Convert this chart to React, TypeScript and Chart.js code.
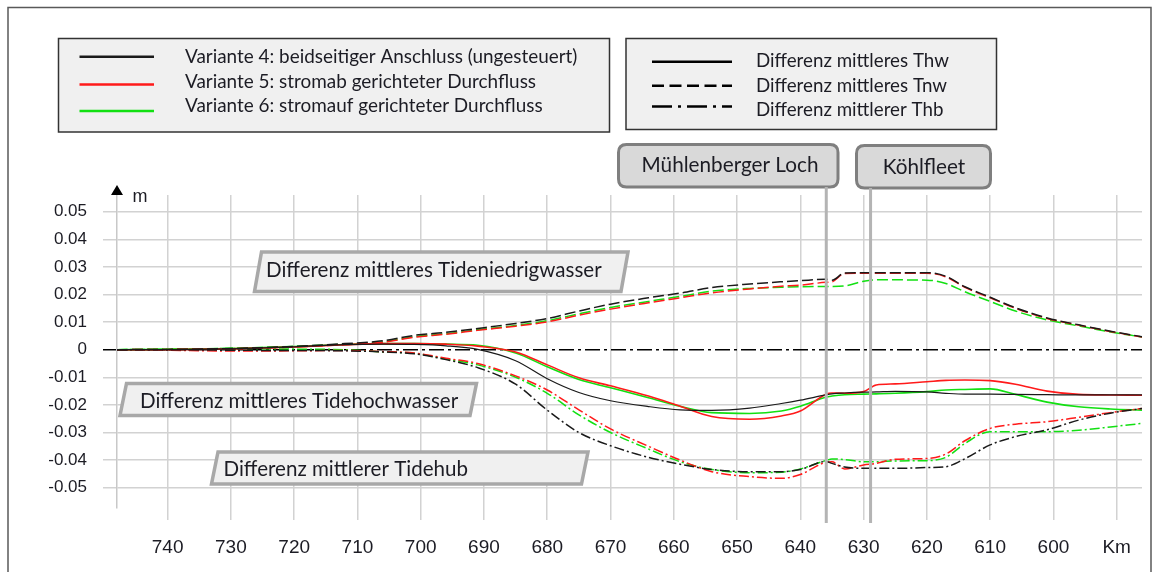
import React, { useEffect, useRef } from 'react';
import { Chart, registerables } from 'chart.js';

Chart.register(...registerables);

// ---------- data ----------
const km = [748, 740, 730, 720, 712, 706, 701, 696, 691, 685, 680, 675, 670, 664, 659, 654, 648, 643, 640, 636, 635, 633, 630, 628, 625, 620, 617, 614, 610, 606, 601, 596, 591, 586];

// Differenz mittleres Thw (solid)
const thwV4 = [0, 0, 0.0003, 0.0010, 0.0018, 0.0020, 0.0019, 0.0014, 0.0001, -0.0040, -0.0105, -0.0155, -0.0185, -0.0206, -0.0218, -0.0220, -0.0212, -0.0195, -0.0183, -0.0164, -0.0160, -0.0157, -0.0154, -0.0153, -0.0151, -0.0153, -0.0158, -0.0161, -0.0161, -0.0162, -0.0163, -0.0164, -0.0164, -0.0164];
const thwV5 = [0, 0, 0.0003, 0.0010, 0.0018, 0.0022, 0.0022, 0.0020, 0.0013, -0.0008, -0.0055, -0.0102, -0.0131, -0.0168, -0.0205, -0.0242, -0.0252, -0.0240, -0.0222, -0.0162, -0.0157, -0.0158, -0.0152, -0.0128, -0.0124, -0.0116, -0.0111, -0.0110, -0.0112, -0.0125, -0.0150, -0.0162, -0.0164, -0.0165];
const thwV6 = [0, 0.0001, 0.0004, 0.0011, 0.0019, 0.0022, 0.0022, 0.0020, 0.0016, -0.0012, -0.0062, -0.0108, -0.0138, -0.0174, -0.0205, -0.0228, -0.0231, -0.0222, -0.0205, -0.0172, -0.0168, -0.0163, -0.0161, -0.0160, -0.0158, -0.0152, -0.0146, -0.0144, -0.0142, -0.0162, -0.0190, -0.0207, -0.0215, -0.0219];

// Differenz mittleres Tnw (dashed)
const tnwV4 = [0, 0.0001, 0.0004, 0.0012, 0.0022, 0.0032, 0.0052, 0.0063, 0.0077, 0.0095, 0.0113, 0.0140, 0.0165, 0.0188, 0.0205, 0.0225, 0.0238, 0.0246, 0.0250, 0.0255, 0.0252, 0.0278, 0.0279, 0.0279, 0.0279, 0.0279, 0.0266, 0.0228, 0.0190, 0.0152, 0.0115, 0.0090, 0.0067, 0.0047];
const tnwV5 = [0, 0.0001, 0.0003, 0.0010, 0.0018, 0.0027, 0.0045, 0.0056, 0.0070, 0.0085, 0.0101, 0.0125, 0.0147, 0.0170, 0.0188, 0.0206, 0.0220, 0.0230, 0.0234, 0.0244, 0.0246, 0.0276, 0.0277, 0.0277, 0.0277, 0.0277, 0.0264, 0.0226, 0.0188, 0.0150, 0.0113, 0.0089, 0.0066, 0.0046];
const tnwV6 = [0, 0.0002, 0.0005, 0.0012, 0.0020, 0.0028, 0.0047, 0.0058, 0.0072, 0.0088, 0.0105, 0.0130, 0.0153, 0.0175, 0.0193, 0.0212, 0.0222, 0.0226, 0.0228, 0.0229, 0.0229, 0.0231, 0.0248, 0.0253, 0.0253, 0.0252, 0.0240, 0.0210, 0.0175, 0.0140, 0.0108, 0.0086, 0.0064, 0.0046];

// Differenz mittlerer Thb (dash-dot)
const thbV4 = [0, 0, -0.0002, -0.0003, -0.0004, -0.0008, -0.0015, -0.0036, -0.0065, -0.0125, -0.0219, -0.0300, -0.0348, -0.0390, -0.0415, -0.0434, -0.0442, -0.0442, -0.0434, -0.0405, -0.0412, -0.0425, -0.0430, -0.0430, -0.0430, -0.0427, -0.0424, -0.0395, -0.0345, -0.0315, -0.0290, -0.0255, -0.0230, -0.0213];
const thbV5 = [0, -0.0002, -0.0005, -0.0004, -0.0003, -0.0007, -0.0012, -0.0031, -0.0050, -0.0095, -0.0146, -0.0218, -0.0287, -0.0350, -0.0400, -0.0442, -0.0460, -0.0466, -0.0452, -0.0408, -0.0406, -0.0432, -0.0418, -0.0412, -0.0397, -0.0394, -0.0378, -0.0330, -0.0285, -0.0270, -0.0261, -0.0245, -0.0228, -0.0213];
const thbV6 = [0, 0.0002, 0.0004, 0.0002, 0, -0.0008, -0.0013, -0.0034, -0.0055, -0.0100, -0.0158, -0.0236, -0.0300, -0.0360, -0.0406, -0.0434, -0.0446, -0.0444, -0.0432, -0.0402, -0.0396, -0.0398, -0.0406, -0.0406, -0.0403, -0.0402, -0.0390, -0.0340, -0.0297, -0.0297, -0.0297, -0.0292, -0.0280, -0.0267];

const zeroLineKm = [748, 586];
const zeroLineValues = [0, 0];

const xTickValues = [740, 730, 720, 710, 700, 690, 680, 670, 660, 650, 640, 630, 620, 610, 600, 590];
const xTickLabels = ['740', '730', '720', '710', '700', '690', '680', '670', '660', '650', '640', '630', '620', '610', '600', 'Km'];
const yTickValues = [0.05, 0.04, 0.03, 0.02, 0.01, 0, -0.01, -0.02, -0.03, -0.04, -0.05];
const yTickLabels = ['0.05', '0.04', '0.03', '0.02', '0.01', '0', '-0.01', '-0.02', '-0.03', '-0.04', '-0.05'];

const variantLabels = [
  'Variante 4: beidseitiger Anschluss (ungesteuert)',
  'Variante 5: stromab gerichteter Durchfluss',
  'Variante 6: stromauf gerichteter Durchfluss',
];
const typeLabels = ['Differenz mittleres Thw', 'Differenz mittleres Tnw', 'Differenz mittlerer Thb'];
const calloutLabels = [
  'Differenz mittleres Tideniedrigwasser',
  'Differenz mittleres Tidehochwasser',
  'Differenz mittlerer Tidehub',
];
const markerNames = ['Mühlenberger Loch', 'Köhlfleet'];
const markerKm = [635.9, 628.9];
const unitLabel = 'm';

// ---------- styles ----------
const COLORS = ['#1a1a1a', '#ff1a1a', '#12e012'];
const THW_WIDTHS = [1.2, 1.6, 1.6];
const DASH_TNW = [11, 4];
const DASH_THB = [10, 3, 2, 3];
const DASH_ZERO = [15, 4, 3, 4];
const UI_FONT = 'Lato, "Open Sans", sans-serif';
const TICK_FONT = '"Liberation Sans", Arial, sans-serif';
const TEXT_COLOR = '#1c1c24';

function fitSize(ctx: CanvasRenderingContext2D, text: string, target: number, family: string) {
  ctx.font = `100px ${family}`;
  const w = ctx.measureText(text).width;
  return (100 * target) / w;
}

function parallelogram(ctx: CanvasRenderingContext2D, l: number, t: number, r: number, b: number, slant: number) {
  ctx.beginPath();
  ctx.moveTo(l + slant, t);
  ctx.lineTo(r, t);
  ctx.lineTo(r - slant, b);
  ctx.lineTo(l, b);
  ctx.closePath();
  ctx.fillStyle = '#f0f0f0';
  ctx.fill();
  ctx.lineWidth = 3.5;
  ctx.strokeStyle = '#a8a8a8';
  ctx.stroke();
}

function roundRect(ctx: CanvasRenderingContext2D, l: number, t: number, r: number, b: number, rad: number) {
  ctx.beginPath();
  ctx.moveTo(l + rad, t);
  ctx.lineTo(r - rad, t);
  ctx.quadraticCurveTo(r, t, r, t + rad);
  ctx.lineTo(r, b - rad);
  ctx.quadraticCurveTo(r, b, r - rad, b);
  ctx.lineTo(l + rad, b);
  ctx.quadraticCurveTo(l, b, l, b - rad);
  ctx.lineTo(l, t + rad);
  ctx.quadraticCurveTo(l, t, l + rad, t);
  ctx.closePath();
  ctx.fillStyle = '#d9d9d9';
  ctx.fill();
  ctx.lineWidth = 3;
  ctx.strokeStyle = '#7f7f7f';
  ctx.stroke();
}

const overlayPlugin = {
  id: 'overlay',
  beforeDraw(chart: any) {
    const ctx: CanvasRenderingContext2D = chart.ctx;
    ctx.save();
    // outer frame
    ctx.strokeStyle = '#595959';
    ctx.lineWidth = 1.5;
    ctx.strokeRect(8, 7.5, 1143, 640);

    // legend 1 (variants)
    ctx.fillStyle = '#f0f0f0';
    ctx.fillRect(58.5, 38.5, 551, 93.5);
    ctx.strokeStyle = '#333333';
    ctx.lineWidth = 1.5;
    ctx.strokeRect(58.5, 38.5, 551, 93.5);
    const legLineY = [56.8, 84.5, 111];
    const legTextY = [63.3, 88.3, 112.3];
    const s1 = fitSize(ctx, variantLabels[2], 358, UI_FONT);
    variantLabels.forEach((lab, i) => {
      ctx.beginPath();
      ctx.setLineDash([]);
      ctx.strokeStyle = COLORS[i];
      ctx.lineWidth = 2.5;
      ctx.moveTo(79.5, legLineY[i]);
      ctx.lineTo(154, legLineY[i]);
      ctx.stroke();
      ctx.font = `${s1}px ${UI_FONT}`;
      ctx.fillStyle = TEXT_COLOR;
      ctx.textAlign = 'left';
      ctx.textBaseline = 'alphabetic';
      ctx.fillText(lab, 185, legTextY[i]);
    });

    // legend 2 (line types)
    ctx.fillStyle = '#f0f0f0';
    ctx.fillRect(626, 38.5, 370.5, 91);
    ctx.strokeStyle = '#333333';
    ctx.lineWidth = 1.5;
    ctx.strokeRect(626, 38.5, 370.5, 91);
    const typeLineY = [61.7, 85.7, 106.5];
    const typeTextY = [67.3, 91.7, 116];
    const typeDash = [[], [12, 5.5], [20, 6, 3, 6]];
    const s2 = fitSize(ctx, typeLabels[0], 193, UI_FONT);
    typeLabels.forEach((lab, i) => {
      ctx.beginPath();
      ctx.setLineDash(typeDash[i]);
      ctx.strokeStyle = '#000000';
      ctx.lineWidth = 2.5;
      ctx.moveTo(652, typeLineY[i]);
      ctx.lineTo(732, typeLineY[i]);
      ctx.stroke();
      ctx.setLineDash([]);
      ctx.font = `${s2}px ${UI_FONT}`;
      ctx.fillStyle = TEXT_COLOR;
      ctx.textAlign = 'left';
      ctx.textBaseline = 'alphabetic';
      ctx.fillText(lab, 756, typeTextY[i]);
    });

    // marker label boxes
    roundRect(ctx, 618.5, 144.5, 838, 187, 8);
    roundRect(ctx, 856.5, 145.5, 990.5, 188, 8);
    const s3 = fitSize(ctx, markerNames[0], 177, UI_FONT);
    ctx.font = `${s3}px ${UI_FONT}`;
    ctx.fillStyle = TEXT_COLOR;
    ctx.textAlign = 'center';
    ctx.textBaseline = 'alphabetic';
    ctx.fillText(markerNames[0], 730, 171.7);
    ctx.fillText(markerNames[1], 924, 173.5);
    ctx.restore();
  },
  afterDatasetsDraw(chart: any) {
    const ctx: CanvasRenderingContext2D = chart.ctx;
    const xs = chart.scales.x;
    ctx.save();
    // vertical marker lines
    ctx.strokeStyle = '#b4b4b4';
    ctx.lineWidth = 3;
    const tops = [187, 188];
    markerKm.forEach((k, i) => {
      const px = xs.getPixelForValue(k);
      ctx.beginPath();
      ctx.moveTo(px, tops[i]);
      ctx.lineTo(px, 523);
      ctx.stroke();
    });

    // slanted callouts
    parallelogram(ctx, 254.5, 252, 628, 291.5, 7);
    parallelogram(ctx, 120, 383.5, 476.5, 415.5, 6.5);
    parallelogram(ctx, 211.5, 452, 588, 484, 6.5);
    const s4 = fitSize(ctx, calloutLabels[0], 336, UI_FONT);
    ctx.font = `${s4}px ${UI_FONT}`;
    ctx.fillStyle = TEXT_COLOR;
    ctx.textAlign = 'left';
    ctx.textBaseline = 'alphabetic';
    ctx.fillText(calloutLabels[0], 266, 277);
    ctx.fillText(calloutLabels[1], 140, 408);
    ctx.fillText(calloutLabels[2], 223.5, 476);
    ctx.restore();
  },
  afterDraw(chart: any) {
    const ctx: CanvasRenderingContext2D = chart.ctx;
    const left = chart.chartArea.left;
    ctx.save();
    ctx.fillStyle = '#000000';
    ctx.beginPath();
    ctx.moveTo(left - 6, 195);
    ctx.lineTo(left + 6, 195);
    ctx.lineTo(left, 185);
    ctx.closePath();
    ctx.fill();
    ctx.font = `18px ${TICK_FONT}`;
    ctx.fillStyle = TEXT_COLOR;
    ctx.textAlign = 'left';
    ctx.textBaseline = 'alphabetic';
    ctx.fillText(unitLabel, 132.5, 201.5);
    ctx.restore();
  },
};

const pts = (xs: number[], ys: number[]) => xs.map((x, i) => ({ x, y: ys[i] }));

export default function App() {
  const ref = useRef<HTMLCanvasElement | null>(null);

  useEffect(() => {
    if (!ref.current) return;
    const thw = [thwV4, thwV5, thwV6];
    const tnw = [tnwV4, tnwV5, tnwV6];
    const thb = [thbV4, thbV5, thbV6];
    const datasets: any[] = [];
    [0, 1, 2].forEach((i) => {
      datasets.push({ label: `Thw ${i}`, data: pts(km, thw[i]), borderColor: COLORS[i], borderWidth: THW_WIDTHS[i] });
      datasets.push({ label: `Tnw ${i}`, data: pts(km, tnw[i]), borderColor: COLORS[i], borderWidth: 1.5, borderDash: DASH_TNW });
      datasets.push({ label: `Thb ${i}`, data: pts(km, thb[i]), borderColor: COLORS[i], borderWidth: 1.5, borderDash: DASH_THB });
    });
    datasets.push({ label: 'Null', data: pts(zeroLineKm, zeroLineValues), borderColor: '#000000', borderWidth: 1.5, borderDash: DASH_ZERO, cubicInterpolationMode: 'default', tension: 0 });

    const chart = new Chart(ref.current, {
      type: 'line',
      data: { datasets },
      options: {
        animation: false,
        responsive: false,
        maintainAspectRatio: false,
        layout: { padding: { left: 0, top: 195, right: 18, bottom: 0 } },
        plugins: { legend: { display: false }, tooltip: { enabled: false } },
        elements: {
          point: { radius: 0 },
          line: { fill: false, cubicInterpolationMode: 'monotone' },
        },
        scales: {
          x: {
            type: 'linear',
            reverse: true,
            min: 586,
            max: 748,
            afterBuildTicks: (s: any) => {
              s.ticks = xTickValues.map((v) => ({ value: v }));
            },
            afterFit: (s: any) => {
              s.height = 64;
            },
            ticks: {
              autoSkip: false,
              maxRotation: 0,
              padding: 16,
              color: TEXT_COLOR,
              font: { family: TICK_FONT, size: 19 },
              callback: (v: any) => {
                const i = xTickValues.indexOf(Number(v));
                return i >= 0 ? xTickLabels[i] : '';
              },
            },
            grid: { color: '#d2d2d2', lineWidth: 1.5, tickLength: 12 },
            border: { display: false },
          },
          y: {
            type: 'linear',
            min: -0.05736,
            max: 0.05605,
            afterBuildTicks: (s: any) => {
              s.ticks = yTickValues.map((v) => ({ value: v }));
            },
            afterFit: (s: any) => {
              s.width = 117;
            },
            ticks: {
              padding: 16,
              color: TEXT_COLOR,
              font: { family: TICK_FONT, size: 17 },
              callback: (v: any) => {
                const i = yTickValues.findIndex((t) => Math.abs(t - Number(v)) < 1e-9);
                return i >= 0 ? yTickLabels[i] : '';
              },
            },
            grid: {
              color: (c: any) => (c.tick && Math.abs(c.tick.value) < 1e-9 ? 'rgba(0,0,0,0)' : '#d2d2d2'),
              tickColor: (c: any) => (c.tick && Math.abs(c.tick.value) < 1e-9 ? '#000000' : '#d2d2d2'),
              lineWidth: 1.5,
              tickLength: 14,
            },
            border: { display: true, color: '#c8c8c8', width: 1.5 },
          },
        },
      } as any,
      plugins: [overlayPlugin],
    });
    return () => chart.destroy();
  }, []);

  return (
    <div style={{ position: 'fixed', left: 0, top: 0, width: 1160, height: 572, background: '#ffffff' }}>
      <canvas ref={ref} width={1160} height={572} style={{ display: 'block', width: 1160, height: 572 }} />
    </div>
  );
}
